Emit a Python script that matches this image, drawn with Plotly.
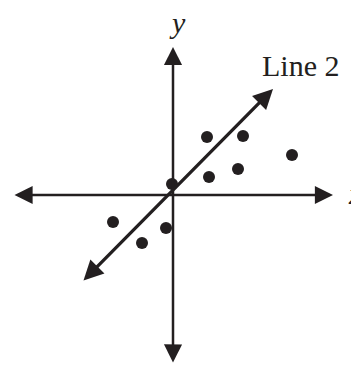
import plotly.graph_objects as go

# scatter points (arbitrary units, origin at axes crossing)
pts_x = [3.4, 7.0, 11.9, 3.6, 6.5, -0.1, -6.0, -3.1, -0.7]
pts_y = [5.8, 5.9, 4.0, 1.8, 2.6, 1.1, -2.7, -4.8, -3.3]

# axis extents and Line 2 end points
x_axis_ends = [-16.0, 16.0]
y_axis_ends = [-16.9, 14.8]
line2_x = [-9.1, 10.0]
line2_y = [-8.7, 10.6]

ink = "#231f20"
font = "Liberation Serif"

fig = go.Figure()
fig.add_trace(go.Scatter(x=pts_x, y=pts_y, mode="markers",
                         marker=dict(size=12, color=ink), showlegend=False))


def arrow(x0, y0, x1, y1, w, s):
    fig.add_annotation(x=x1, y=y1, ax=x0, ay=y0, xref="x", yref="y",
                       axref="x", ayref="y", text="", showarrow=True,
                       arrowhead=2, startarrowhead=2, arrowside="end+start",
                       arrowsize=s, startarrowsize=s, arrowwidth=w,
                       arrowcolor=ink)


arrow(x_axis_ends[0], 0, x_axis_ends[1], 0, 2.5, 1.45)
arrow(0, y_axis_ends[0], 0, y_axis_ends[1], 2.5, 1.45)
arrow(line2_x[0], line2_y[0], line2_x[1], line2_y[1], 3.3, 1.2)

fig.add_annotation(x=0.4, y=17.3, text="<i>y</i>", showarrow=False,
                   font=dict(family=font, size=30, color=ink))
fig.add_annotation(x=17.3, y=0.2, text="<i>x</i>", showarrow=False, xanchor="left",
                   font=dict(family=font, size=30, color=ink))
fig.add_annotation(x=12.7, y=13.0, text="Line 2", showarrow=False,
                   font=dict(family=font, size=30, color=ink))

# page body has an 8px margin, so the figure is offset and trimmed
fig.update_xaxes(range=[-16.5, 18.6], visible=False)
fig.update_yaxes(range=[-17.1, 18.7], visible=False)
fig.update_layout(width=351, height=358, margin=dict(l=0, r=0, t=0, b=0),
                  plot_bgcolor="white", paper_bgcolor="white")

fig.write_html("out.html")
